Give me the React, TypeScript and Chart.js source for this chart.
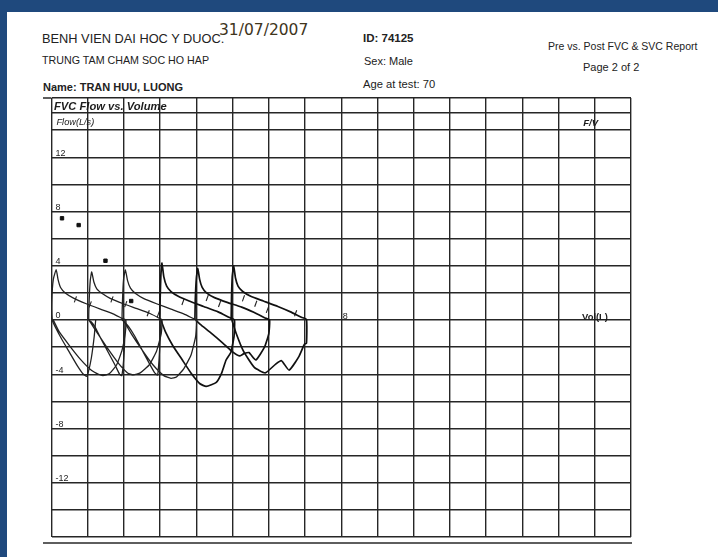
import React, { useEffect, useRef } from 'react';
import { Chart, registerables } from 'chart.js';

Chart.register(...registerables);

// ---- axis setup ----
const volMin = 0;
const volMax = 16;
const flowMin = -16;
const flowMax = 16.37;
const flowGridValues = [-16, -14, -12, -10, -8, -6, -4, -2, 0, 2, 4, 6, 8, 10, 12, 14, 15.26, 16.37];
const flowTickLabels = [12, 8, 4, 0, -4, -8, -12];
const volTickLabels = [8];

// ---- trial curves (volume L, flow L/s) ----
const trial1Vol = [1.22, 1.18, 1.1, 1.02, 0.97, 0.88, 0.72, 0.5, 0.28, 0.1, 0.02, 0.01, 0.05, 0.13, 0.18, 0.25, 0.38, 0.62, 0.96, 1.35, 1.7, 1.95, 2.05, 2.04, 1.95, 1.8, 1.6, 1.42, 1.3, 1.1, 0.8, 0.5, 0.22, 0.05];
const trial1Flow = [0, -1.2, -2.8, -3.8, -4.15, -4.0, -3.4, -2.4, -1.4, -0.5, 0, 1.5, 3.0, 3.72, 3.0, 2.4, 2.0, 1.6, 1.2, 0.8, 0.45, 0.12, 0, -0.9, -2.2, -3.3, -3.95, -4.1, -4.0, -3.7, -2.9, -1.9, -0.9, 0];

const trial2Vol = [2.03, 2.02, 1.99, 1.94, 1.88, 1.75, 1.55, 1.35, 1.2, 1.1, 1.03, 1.04, 1.07, 1.11, 1.17, 1.25, 1.4, 1.62, 1.98, 2.38, 2.72, 2.96, 3.05, 3.03, 2.9, 2.7, 2.45, 2.26, 2.1, 1.85, 1.55, 1.3, 1.08, 1.03];
const trial2Flow = [0, -1.5, -3.0, -4.1, -4.0, -3.3, -2.3, -1.3, -0.5, -0.15, 0, 1.4, 2.9, 3.55, 2.8, 2.3, 1.95, 1.6, 1.2, 0.82, 0.48, 0.15, 0, -1.0, -2.3, -3.3, -3.9, -4.05, -3.9, -3.2, -2.1, -1.1, -0.2, 0];

const trial3Vol = [3.02, 3.0, 2.97, 2.93, 2.85, 2.7, 2.5, 2.3, 2.12, 2.0, 1.95, 1.96, 1.99, 2.04, 2.1, 2.18, 2.32, 2.55, 2.9, 3.3, 3.65, 3.9, 4.0, 3.98, 3.85, 3.65, 3.45, 3.3, 3.1, 2.8, 2.5, 2.2, 1.98];
const trial3Flow = [0, -1.4, -2.9, -4.05, -3.9, -3.2, -2.2, -1.2, -0.45, -0.1, 0, 1.4, 3.0, 3.7, 2.9, 2.35, 1.95, 1.58, 1.2, 0.8, 0.45, 0.13, 0, -1.2, -2.6, -3.6, -4.2, -4.3, -4.1, -3.3, -2.2, -1.0, 0];

const trial4Vol = [2.99, 3.0, 3.02, 3.05, 3.1, 3.18, 3.3, 3.5, 3.8, 4.2, 4.6, 4.9, 5.05, 5.04, 4.95, 4.82, 4.7, 4.55, 4.27, 4.1, 3.85, 3.6, 3.35, 3.15, 3.02];
const trial4Flow = [0, 1.6, 3.3, 4.2, 3.2, 2.5, 2.1, 1.75, 1.4, 1.0, 0.6, 0.2, 0, -1.2, -2.4, -2.95, -3.9, -4.6, -4.9, -4.7, -3.9, -2.9, -1.9, -0.9, 0];

const trial5Vol = [3.96, 3.97, 4.0, 4.04, 4.09, 4.16, 4.28, 4.5, 4.85, 5.25, 5.6, 5.9, 6.02, 6.0, 5.88, 5.64, 5.45, 5.3, 5.19, 5.0, 4.73, 4.4, 4.1, 3.98];
const trial5Flow = [0, 1.5, 3.1, 3.8, 3.0, 2.4, 2.0, 1.65, 1.3, 0.95, 0.55, 0.15, 0, -1.0, -2.0, -2.95, -2.4, -2.5, -2.65, -2.35, -1.7, -0.95, -0.3, 0];

const trial6Vol = [4.96, 4.97, 4.99, 5.03, 5.08, 5.15, 5.28, 5.5, 5.85, 6.25, 6.6, 6.9, 7.04, 7.04, 6.98, 6.83, 6.56, 6.35, 6.19, 5.9, 5.6, 5.3, 5.1, 4.98];
const trial6Flow = [0, 1.6, 3.2, 4.0, 3.1, 2.5, 2.1, 1.75, 1.4, 1.0, 0.6, 0.2, 0.05, -1.7, -1.8, -2.7, -3.7, -3.0, -3.25, -3.9, -3.5, -2.3, -1.0, 0];

// ---- predicted markers and time marks ----
const predVol = [0.29, 0.75, 1.49, 2.2];
const predFlow = [7.5, 7.0, 4.37, 1.4];
const timeMarkVol = [0.66, 1.07, 1.67, 2.05, 2.67, 2.95, 3.63, 4.3, 4.64, 5.3, 5.64, 5.96, 6.74];
const timeMarkFlow = [1.52, 1.15, 1.52, 1.17, 0.5, 0.43, 1.33, 1.62, 1.18, 1.6, 1.2, 0.75, 0.5];

const trialVols = [trial1Vol, trial2Vol, trial3Vol, trial4Vol, trial5Vol, trial6Vol];
const trialFlows = [trial1Flow, trial2Flow, trial3Flow, trial4Flow, trial5Flow, trial6Flow];

const FONT = '"Liberation Sans", Arial, sans-serif';
const INK = '#1c1c1c';

const zip = (xs: number[], ys: number[]) => xs.map((x, i) => ({ x, y: ys[i] }));

const annotationPlugin = {
  id: 'annotations',
  afterDraw(chart: any) {
    const { ctx, scales, chartArea } = chart;
    const x = scales.x;
    const y = scales.y;
    ctx.save();
    ctx.fillStyle = INK;
    ctx.textBaseline = 'alphabetic';
    ctx.textAlign = 'left';
    ctx.font = `italic bold 11.2px ${FONT}`;
    ctx.fillText('FVC Flow vs. Volume', x.getPixelForValue(0) + 2.5, y.getPixelForValue(15.26) - 3.5);
    ctx.font = `italic 9.2px ${FONT}`;
    ctx.fillText('Flow(L/s)', x.getPixelForValue(0) + 5, y.getPixelForValue(14) - 5);
    ctx.font = `italic bold 9.5px ${FONT}`;
    ctx.fillText('F/V', x.getPixelForValue(14.68), y.getPixelForValue(14) - 4.5);
    ctx.font = `9px ${FONT}`;
    volTickLabels.forEach((v) => {
      ctx.fillText(String(v), x.getPixelForValue(v) + 1.5, y.getPixelForValue(0) - 1);
    });
    ctx.font = `bold 9.4px ${FONT}`;
    ctx.fillText('Vol(L)', x.getPixelForValue(14.65), y.getPixelForValue(0) - 0.5);
    // header rule extension and bottom double rule
    ctx.strokeStyle = '#2a2a2a';
    ctx.lineWidth = 1.4;
    ctx.beginPath();
    ctx.moveTo(43, chartArea.top);
    ctx.lineTo(chartArea.left, chartArea.top);
    ctx.moveTo(43, chartArea.bottom + 6);
    ctx.lineTo(chartArea.right + 1, chartArea.bottom + 6);
    ctx.stroke();
    ctx.restore();
  },
};

function FlowVolumeChart() {
  const ref = useRef<HTMLCanvasElement | null>(null);
  useEffect(() => {
    if (!ref.current) return;
    const lineSets = trialVols.map((vols, i) => ({
      label: `Trial ${i + 1}`,
      data: zip(vols, trialFlows[i]),
      showLine: true,
      borderColor: i < 3 ? '#222222' : '#111111',
      borderWidth: i < 3 ? 1.3 : 1.7,
      pointRadius: 0,
      tension: 0.15,
      fill: false,
    }));
    const chart = new Chart(ref.current, {
      type: 'scatter',
      data: {
        datasets: [
          ...lineSets,
          {
            label: 'Predicted',
            data: zip(predVol, predFlow),
            pointStyle: 'rect',
            pointRadius: 2.4,
            backgroundColor: '#111',
            borderColor: '#111',
            showLine: false,
          },
          {
            label: 'Time marks',
            data: zip(timeMarkVol, timeMarkFlow),
            pointStyle: 'line',
            rotation: 110,
            pointRadius: 3.2,
            borderColor: '#222',
            borderWidth: 1.1,
            showLine: false,
          },
        ] as any,
      },
      options: {
        responsive: false,
        animation: false,
        layout: { padding: { left: 43.5, right: 87, top: 98, bottom: 20 } },
        plugins: { legend: { display: false }, tooltip: { enabled: false }, title: { display: false } },
        scales: {
          x: {
            type: 'linear',
            min: volMin,
            max: volMax,
            ticks: { display: false, stepSize: 1 },
            grid: { color: '#262626', lineWidth: 1.4, drawTicks: false },
            border: { display: false },
          },
          y: {
            type: 'linear',
            min: flowMin,
            max: flowMax,
            afterBuildTicks: (scale: any) => {
              scale.ticks = flowGridValues.map((v) => ({ value: v }));
            },
            ticks: {
              mirror: true,
              padding: 4,
              labelOffset: -4,
              autoSkip: false,
              color: INK,
              font: { family: FONT, size: 9 },
              callback: (v: any) => (flowTickLabels.includes(Number(v)) ? String(v) : ''),
            },
            grid: { color: '#262626', lineWidth: 1.4, drawTicks: false },
            border: { display: false },
          },
        },
      } as any,
      plugins: [annotationPlugin],
    });
    return () => chart.destroy();
  }, []);
  return <canvas ref={ref} width={718} height={557} style={{ position: 'absolute', left: 0, top: 0 }} />;
}

const txt = (
  content: string,
  left: number,
  top: number,
  size: number,
  extra: React.CSSProperties = {}
) => (
  <div
    style={{
      position: 'absolute',
      left,
      top,
      fontSize: size,
      lineHeight: 1,
      fontFamily: FONT,
      color: '#222',
      whiteSpace: 'nowrap',
      ...extra,
    }}
  >
    {content}
  </div>
);

export default function App() {
  return (
    <div style={{ position: 'fixed', left: 0, top: 0, width: 718, height: 557, background: '#1f497d', overflow: 'hidden' }}>
      <div style={{ position: 'absolute', left: 7, top: 12, width: 711, height: 545, background: '#ffffff' }} />
      {txt('BENH VIEN DAI HOC Y DUOC.', 42, 33.2, 12.8)}
      {txt('31/07/2007', 219, 23, 15.5, { fontFamily: '"DejaVu Sans", Verdana, sans-serif', color: '#40351c' })}
      {txt('TRUNG TAM CHAM SOC HO HAP', 42, 55, 10.7)}
      {txt('Name:  TRAN HUU, LUONG', 43, 81.7, 11, { fontWeight: 'bold' })}
      {txt('ID:  74125', 363, 32.8, 11.5, { fontWeight: 'bold' })}
      {txt('Sex:  Male', 364, 55.8, 11)}
      {txt('Age at test:  70', 363, 78.8, 11.2)}
      {txt('Pre vs. Post FVC & SVC Report', 548, 41.1, 10.5)}
      {txt('Page 2 of 2', 583, 61.7, 11)}
      <FlowVolumeChart />
    </div>
  );
}
